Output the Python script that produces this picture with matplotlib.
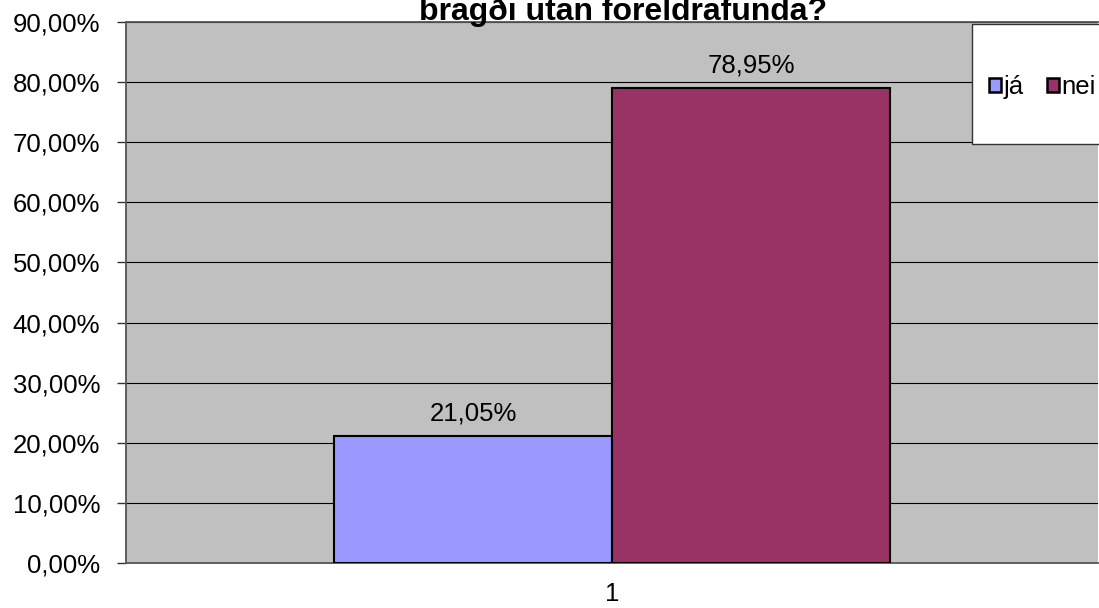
import numpy as np
import matplotlib.pyplot as plt
from matplotlib.patches import Patch, Rectangle

plt.rcParams['font.family'] = ['Liberation Sans', 'DejaVu Sans']

# data
series = ['já', 'nei']
values = [21.05, 78.95]
colors = ['#9999FF', '#993366']
category = '1'
title_line = 'bragði utan foreldrafunda?'

fig = plt.figure(figsize=(10.99, 6.08), dpi=100)
W, H = 1099, 608
ax = fig.add_axes([126 / W, 1 - 563 / H, (1098 - 126) / W, (563 - 22) / H])
ax.set_facecolor('#C0C0C0')

fs = 18.5
width = 0.286
x = np.array([-width / 2, width / 2])
bars = ax.bar(x, values, width=width, color=colors, edgecolor='black', linewidth=1.5, zorder=3)
for b, v in zip(bars, values):
    ax.text(b.get_x() + b.get_width() / 2, v + 2.7, f'{v:.2f}%'.replace('.', ','),
            ha='center', va='baseline', fontsize=fs)

ax.set_xlim(-0.5, 0.5)
ax.set_ylim(0, 90)
yt = np.arange(0, 91, 10)
ax.set_yticks(yt)
ax.set_yticklabels([f'{t:.2f}%'.replace('.', ',') for t in yt], fontsize=fs)
ax.yaxis.grid(True, color='black', linewidth=0.8, zorder=1)
ax.set_axisbelow(True)
ax.set_xticks([0])
ax.set_xticklabels([category], fontsize=fs)
ax.tick_params(axis='x', length=0, pad=14)
ax.tick_params(axis='y', length=6.5, color='#333333', width=1, pad=12)
for s in ['left', 'bottom', 'top']:
    ax.spines[s].set_color('#555555')
    ax.spines[s].set_linewidth(1.3)
ax.spines['right'].set_visible(False)

fig.text(623 / W, 1 - 20 / H, title_line, ha='center', va='baseline',
         fontsize=23, fontweight='bold')

# legend box
fig.patches.append(Rectangle((972 / W, 1 - 144 / H), 140 / W, 120 / H,
                             transform=fig.transFigure, facecolor='white',
                             edgecolor='#333333', linewidth=1, zorder=5))
handles = [Patch(facecolor=c, edgecolor='black', linewidth=1.8) for c in colors]
leg = fig.legend(handles, series, loc='center left', bbox_to_anchor=(989 / W, 1 - 87 / H),
                 ncol=2, fontsize=fs, frameon=False, handlelength=0.47,
                 handleheight=0.47, handletextpad=0.1, columnspacing=0.9,
                 borderpad=0, borderaxespad=0)
leg.set_zorder(6)

fig.savefig('out.png', dpi=100)
